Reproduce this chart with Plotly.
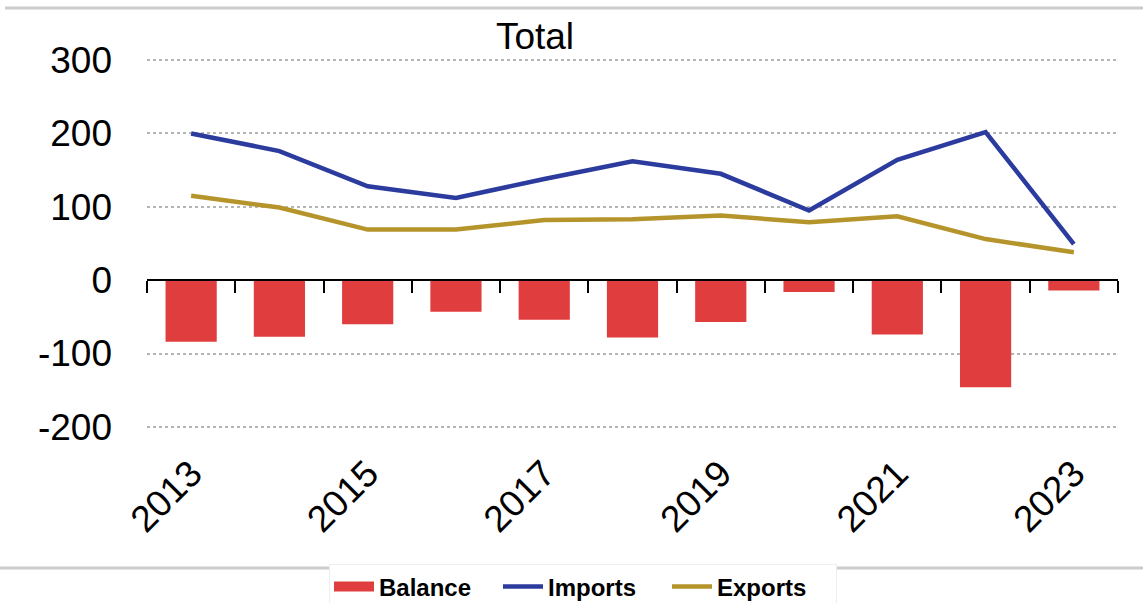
import plotly.graph_objects as go

# Trade totals by year
years = ["2013", "2014", "2015", "2016", "2017", "2018", "2019", "2020", "2021", "2022", "2023"]
imports = [200, 176, 128, 112, 138, 162, 145, 95, 164, 202, 49]
exports = [115, 99, 69, 69, 82, 83, 88, 79, 87, 56, 38]
balance = [-84, -77, -60, -43, -54, -78, -57, -16, -74, -146, -14]
label_years = ["2013", "2015", "2017", "2019", "2021", "2023"]
y_ticks = [-200, -100, 0, 100, 200, 300]
y_tick_text = ["-200", "-100", "0", "100", "200", "300"]

W, H = 1143, 603
ML, MR, MT, MB = 147, 25, 59, 175
y_min, y_max = -201.5, 301.5

FONT = "Liberation Sans, Arial, sans-serif"
RED = "#E03E3E"
BLUE = "#2B3C9E"
GOLD = "#B5952B"

fig = go.Figure()

fig.add_trace(go.Bar(
    x=years, y=balance, name="Balance", legendgroup="bal", showlegend=False,
    marker=dict(color=RED, line=dict(width=0)),
    width=0.58, xaxis="x", yaxis="y",
))
# wide swatch used as the legend key for the balance bars
fig.add_trace(go.Scatter(
    x=[None], y=[None], name="Balance", legendgroup="bal", mode="lines",
    line=dict(color=RED, width=14), xaxis="x2", yaxis="y", hoverinfo="skip",
))
fig.add_trace(go.Scatter(
    x=years, y=imports, name="Imports", mode="lines",
    line=dict(color=BLUE, width=4.5), xaxis="x2", yaxis="y",
))
fig.add_trace(go.Scatter(
    x=years, y=exports, name="Exports", mode="lines",
    line=dict(color=GOLD, width=4.5), xaxis="x2", yaxis="y",
))

# fraction of the plot height where y = 0 sits
zero_pos = (0 - y_min) / (y_max - y_min)
plot_w = W - ML - MR
plot_h = H - MT - MB


def px_x(px):
    return (px - ML) / plot_w


def px_y(py):
    return (H - MB - py) / plot_h


fig.update_layout(
    width=W, height=H,
    margin=dict(l=ML, r=MR, t=MT, b=MB),
    paper_bgcolor="white", plot_bgcolor="white",
    font=dict(family=FONT, color="black"),
    showlegend=True,
    title=dict(
        text="Total", font=dict(size=37, family=FONT, color="black"),
        xref="container", yref="container",
        x=535 / W, xanchor="center", y=1 - 36 / H, yanchor="middle",
    ),
    # category axis drawn along y = 0 with boundary ticks
    xaxis=dict(
        type="category", categoryorder="array", categoryarray=years,
        range=[-0.5, len(years) - 0.5],
        anchor="free", position=zero_pos,
        showline=True, linecolor="black", linewidth=2,
        ticks="outside", tickson="boundaries", ticklen=12,
        tickcolor="black", tickwidth=2,
        showticklabels=False, showgrid=False, zeroline=False,
    ),
    # bottom axis carrying the year labels
    xaxis2=dict(
        type="category", categoryorder="array", categoryarray=years,
        range=[-0.5, len(years) - 0.5],
        overlaying="x", anchor="y", side="bottom",
        tickmode="array", tickvals=label_years, ticktext=label_years,
        tickangle=-45, tickfont=dict(size=37, family=FONT, color="black"),
        ticks="outside", ticklen=8, tickcolor="rgba(0,0,0,0)",
        showline=False, showgrid=False, zeroline=False,
    ),
    yaxis=dict(
        range=[y_min, y_max], tickmode="array",
        tickvals=y_ticks, ticktext=y_tick_text,
        tickfont=dict(size=37, family=FONT, color="black"),
        showgrid=True, gridcolor="#b5b5b5", gridwidth=1.5, griddash="dot",
        zeroline=False, showline=False, ticks="",
        ticklabelstandoff=34,
    ),
    legend=dict(
        orientation="h",
        xref="container", yref="container",
        x=583 / W, xanchor="center", y=1 - 587 / H, yanchor="middle",
        font=dict(size=24, family=FONT, color="black", weight="bold"),
        bgcolor="white", bordercolor="#eeeeee", borderwidth=1,
        itemwidth=40, tracegroupgap=0,
        entrywidth=114, entrywidthmode="pixels",
    ),
    shapes=[
        dict(type="line", xref="paper", yref="paper",
             x0=px_x(5), x1=px_x(W), y0=px_y(8), y1=px_y(8),
             line=dict(color="#cccccc", width=3)),
        dict(type="line", xref="paper", yref="paper",
             x0=px_x(0), x1=px_x(W), y0=px_y(568), y1=px_y(568),
             line=dict(color="#cccccc", width=3)),
    ],
)

fig.write_html("out.html")
